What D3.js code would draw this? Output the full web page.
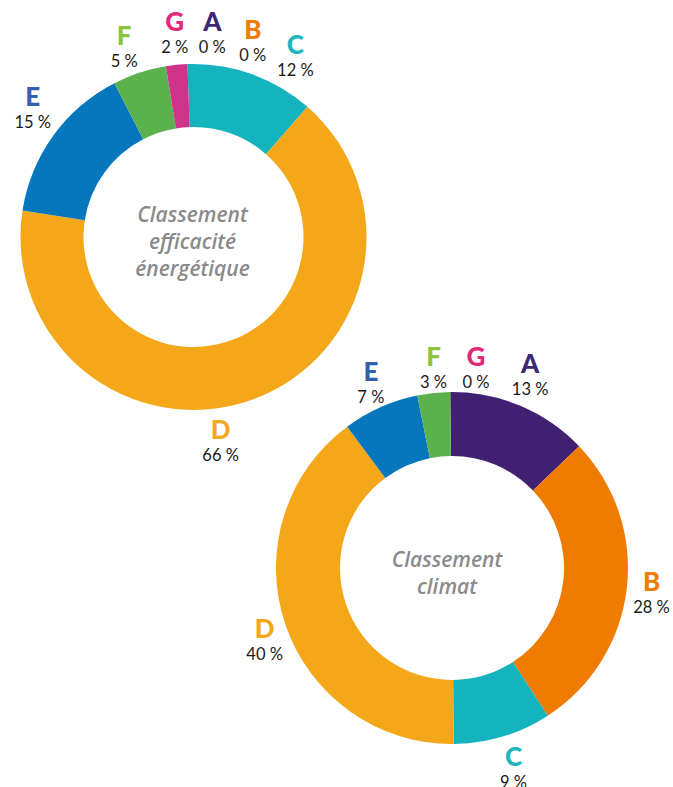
<!DOCTYPE html>
<html>
<head>
<meta charset="utf-8">
<script src="https://cdnjs.cloudflare.com/ajax/libs/d3/7.8.5/d3.min.js"></script>
<style>
  body { margin: 0; background: #fff; }
  svg text { font-family: Lato, "Open Sans", sans-serif; }
</style>
</head>
<body>
<svg id="chart" width="673" height="787"></svg>
<script>
// classes, in drawing order (clockwise from the top)
const classes = ["A", "B", "C", "D", "E", "F", "G"]
const energyValues = [0, 0, 12, 66, 15, 5, 2]
const climateValues = [13, 28, 9, 40, 7, 3, 0]

const sliceColors = {A: "#412071", B: "#ef7b00", C: "#14b3bd", D: "#f5a71a", E: "#0677bd", F: "#5bb14c", G: "#d1338a"}
const letterColors = {A: "#3e2776", B: "#ef7d00", C: "#1cb5bf", D: "#f6a71b", E: "#3360ad", F: "#8cc43f", G: "#e2297a"}

// where the labels sit round each ring: angle (deg from top) and radius
const energyLabels = {A: [5, 216], B: [16, 215], C: [28, 217], D: [172, 195], E: [-49, 213], F: [-19, 213], G: [-5, 216]}
const climateLabels = {A: [21, 218], B: [94, 200], C: [162, 199], D: [-108, 197], E: [-22.5, 212], F: [-5, 212], G: [6.5, 212]}

const svg = d3.select("#chart")

function drawDonut(values, labels, cx, cy, rOut, rIn, offset, titleLines, titleX) {
    const data = classes.map((c, i) => ({key: c, value: values[i]}))
    const pie = d3.pie().sort(null).value(d => d.value)
        .startAngle(offset).endAngle(offset + 2 * Math.PI)
    const arc = d3.arc().innerRadius(rIn).outerRadius(rOut)

    const g = svg.append("g").attr("transform", `translate(${cx},${cy})`)

    g.selectAll("path")
        .data(pie(data).filter(d => d.data.value > 0))
        .enter().append("path")
        .attr("d", arc)
        .attr("fill", d => sliceColors[d.data.key])

    data.forEach(d => {
        let a = labels[d.key][0] * Math.PI / 180
        let r = labels[d.key][1]
        let x = r * Math.sin(a)
        let y = -r * Math.cos(a)
        g.append("text")
            .attr("x", x).attr("y", y + 9)
            .attr("text-anchor", "middle")
            .attr("font-size", 26)
            .attr("font-weight", 900)
            .attr("fill", letterColors[d.key])
            .text(d.key)
        g.append("text")
            .attr("x", x).attr("y", y + 31)
            .attr("text-anchor", "middle")
            .attr("font-size", 16.5)
            .attr("fill", "#1a1a1a")
            .text(d.value + " %")
    })

    let t = g.append("text")
        .attr("text-anchor", "middle")
        .style("font-family", "'Open Sans', sans-serif")
        .attr("font-size", 21)
        .attr("font-style", "italic")
        .attr("font-weight", 600)
        .attr("fill", "#8a8a8a")
    titleLines.forEach((line, i) => {
        t.append("tspan")
            .attr("x", titleX)
            .attr("y", (i - (titleLines.length - 1) / 2) * 27 + 12)
            .text(line)
    })
}

drawDonut(energyValues, energyLabels, 193.5, 237, 173, 110, -0.035,
    ["Classement", "efficacité", "énergétique"], -1)
drawDonut(climateValues, climateLabels, 452, 568, 176, 112, -0.01,
    ["Classement", "climat"], -5)
</script>
</body>
</html>
